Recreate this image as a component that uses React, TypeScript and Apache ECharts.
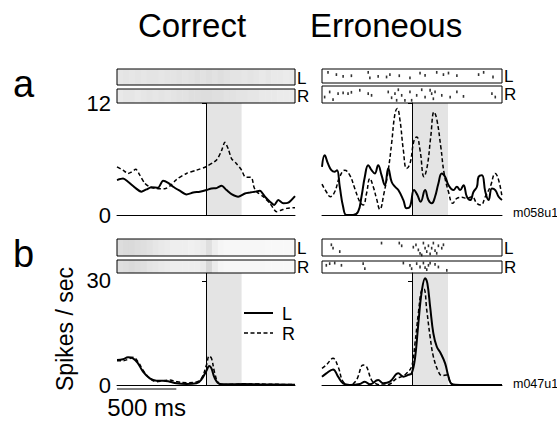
import React, { useEffect, useRef } from "react";
import * as echarts from "echarts";

// ---- data ----
const timeMin = -750;
const timeMax = 750;
const responseWindow = [0, 300];
const scaleBarMs = 500;
const yTicksA = [0, 12];
const yTicksB = [0, 30];
const yMaxA = 12;
const yMaxB = 32.3;

// PSTH curves: [ms, spikes/sec]
const aCorrectL = [[-750,3.74],[-699,3.9],[-657,3.56],[-601,2.96],[-545,2.5],[-502,2.74],[-460,2.96],[-404,2.92],[-362,3.67],[-319,3.45],[-277,3.03],[-221,2.6],[-165,2.2],[-108,2.4],[-52,2.5],[4,2.67],[46,2.85],[89,2.88],[131,3.13],[173,2.67],[215,2.24],[271,1.96],[328,2.3],[370,2.4],[412,2.5],[454,2.6],[497,1.96],[539,1.42],[575,1.07],[609,1.6],[651,1.25],[694,1.32],[750,2.03]];
const aCorrectR = [[-750,5.16],[-699,4.8],[-657,4.45],[-629,4.6],[-592,4.9],[-559,4.3],[-516,3.4],[-474,3.0],[-418,2.85],[-348,2.8],[-305,3.1],[-249,3.8],[-165,4.45],[-80,4.8],[4,5.2],[89,5.9],[131,6.9],[159,7.8],[187,7.1],[215,6.05],[257,5.5],[300,4.8],[328,4.1],[384,4.0],[404,3.0],[426,2.5],[483,1.96],[539,1.25],[595,0.36],[637,0.53],[680,0.71],[750,0.78]];
const aErrorL = [[-750,5.16],[-728,6.4],[-700,5.5],[-672,4.8],[-644,4.63],[-625,4.8],[-602,3.03],[-574,0.89],[-546,0],[-491,0],[-449,0.36],[-421,1.96],[-393,4.1],[-365,5.34],[-337,4.8],[-310,4.45],[-282,5.34],[-254,4.27],[-226,3.2],[-198,4.98],[-170,3.56],[-142,3.03],[-114,2.67],[-72,1.6],[-45,0.71],[-17,0.89],[17,2.67],[45,2.14],[72,1.42],[109,2.67],[137,1.6],[164,1.25],[192,1.96],[220,3.38],[248,4.45],[276,4.1],[304,3.2],[346,2.67],[374,3.03],[401,2.67],[429,3.2],[457,1.96],[485,1.6],[513,2.49],[541,3.03],[555,4.1],[583,4.27],[611,2.49],[638,1.6],[666,2.85],[694,2.67],[722,1.96],[750,1.6]];
const aErrorR = [[-750,3.31],[-714,2.49],[-680,1.96],[-644,2.49],[-602,4.1],[-560,4.8],[-519,4.27],[-477,2.85],[-435,1.42],[-407,1.07],[-379,2.3],[-351,3.9],[-323,3.03],[-296,1.78],[-268,0.6],[-234,2.3],[-198,4.8],[-170,7.66],[-142,10.86],[-123,11.4],[-100,10.15],[-72,6.94],[-45,4.98],[-17,5.5],[17,8.0],[39,8.37],[67,6.94],[100,4.1],[128,5.3],[156,8.37],[184,11.04],[206,10.3],[240,7.3],[268,4.45],[304,2.49],[340,1.25],[374,1.78],[415,1.89],[457,1.78],[499,1.96],[541,1.25],[574,1.07],[611,1.96],[652,3.03],[694,4.45],[722,3.74],[750,1.96]];
const bCorrectL = [[-750,7.2],[-699,7.4],[-657,8.0],[-615,7.7],[-573,6.25],[-531,3.85],[-474,1.92],[-418,1.25],[-362,1.25],[-305,0.96],[-249,0.48],[-165,0.29],[-80,0.48],[-38,1.63],[4,4.13],[27,5.48],[46,4.8],[74,1.92],[117,0.29],[201,0.19],[314,0.29],[454,0.19],[750,0.1]];
const bCorrectR = [[-750,7.0],[-699,7.0],[-657,7.4],[-615,8.0],[-573,6.7],[-531,4.3],[-474,1.92],[-418,0.96],[-362,1.25],[-305,1.44],[-249,0.96],[-165,0.67],[-80,0.87],[-38,1.92],[4,5.77],[27,8.37],[46,7.7],[74,3.37],[103,0.67],[145,0.1],[314,0.29],[750,0.1]];
const bErrorL = [[-750,2.4],[-714,3.37],[-658,4.5],[-616,2.4],[-574,0.48],[-519,0],[-435,0.29],[-393,0.96],[-351,0.19],[-282,1.44],[-240,0.48],[-184,0.96],[-114,3.37],[-72,2.4],[-31,2.9],[-3,3.37],[25,7.7],[53,17.8],[81,26.9],[109,30.8],[128,29.3],[151,22.6],[178,14.9],[206,11.1],[240,9.1],[276,6.25],[304,2.4],[332,0.29],[401,0],[750,0]];
const bErrorR = [[-750,4.8],[-714,5.77],[-658,7.7],[-616,5.3],[-574,0.96],[-519,0],[-463,1.44],[-407,5.77],[-379,5.3],[-337,1.44],[-296,0.29],[-240,0],[-184,0.29],[-128,1.92],[-86,2.4],[-45,3.37],[-3,5.3],[25,12.0],[53,20.7],[81,27.4],[100,27.6],[123,21.6],[151,13.9],[178,8.2],[220,3.85],[248,2.7],[290,2.9],[318,0.96],[346,0],[750,0.1]];

// Raster density (correct trials, 50 ms bins from -750 ms)
const binMs = 50;
const aCorrectLDensity = [0.45,0.5,0.45,0.5,0.45,0.5,0.5,0.45,0.5,0.5,0.55,0.5,0.55,0.6,0.55,0.6,0.55,0.6,0.55,0.5,0.5,0.45,0.5,0.45,0.4,0.45,0.4,0.4,0.35,0.4];
const aCorrectRDensity = [0.4,0.45,0.45,0.4,0.45,0.5,0.45,0.5,0.45,0.5,0.55,0.55,0.6,0.6,0.65,0.65,0.6,0.6,0.55,0.55,0.5,0.5,0.45,0.45,0.4,0.4,0.4,0.35,0.35,0.35];
const bCorrectLDensity = [0.65,0.7,0.7,0.65,0.6,0.55,0.45,0.4,0.35,0.3,0.3,0.3,0.25,0.3,0.35,0.6,0.3,0.15,0.1,0.1,0.1,0.1,0.1,0.1,0.1,0.08,0.08,0.08,0.08,0.08];
const bCorrectRDensity = [0.6,0.65,0.7,0.65,0.6,0.5,0.45,0.4,0.35,0.3,0.3,0.3,0.3,0.3,0.4,0.8,0.35,0.15,0.1,0.1,0.1,0.1,0.1,0.1,0.1,0.08,0.08,0.08,0.08,0.08];

// Raster spikes (erroneous trials): [ms, row position 0 (top) .. 1 (bottom)]
const aErrorLSpikes = [[-700,0.24],[-630,0.4],[-574,0.52],[-505,0.48],[-365,0.24],[-351,0.64],[-282,0.52],[-212,0.57],[-184,0.4],[-106,0.48],[-17,0.64],[67,0.29],[109,0.45],[206,0.24],[262,0.4],[304,0.29],[374,0.48],[555,0.4],[597,0.24],[675,0.57]];
const aErrorRSpikes = [[-728,0.65],[-686,0.35],[-658,0.8],[-616,0.45],[-574,0.41],[-533,0.45],[-505,0.37],[-435,0.25],[-365,0.45],[-337,0.55],[-198,0.35],[-170,0.69],[-142,0.45],[-128,0.84],[-114,0.22],[-86,0.55],[-59,0.84],[-17,0.35],[-3,0.84],[39,0.55],[81,0.22],[109,0.65],[151,0.25],[164,0.45],[178,0.75],[192,0.35],[248,0.55],[318,0.65],[374,0.35],[429,0.61],[666,0.45],[694,0.65]];
const bErrorLSpikes = [[-672,0.34],[-658,0.54],[-602,0.74],[-254,0.24],[-106,0.24],[-86,0.4],[11,0.48],[33,0.34],[53,0.64],[67,0.84],[81,0.94],[95,0.24],[109,0.54],[123,0.74],[137,0.4],[151,0.88],[164,0.54],[178,0.24],[192,0.68],[206,0.84],[220,0.4],[248,0.54],[262,0.34]];
const bErrorRSpikes = [[-714,0.36],[-686,0.22],[-644,0.17],[-588,0.36],[-407,0.22],[-393,0.64],[-72,0.17],[-17,0.36],[-3,0.64],[39,0.22],[67,0.5],[95,0.17],[109,0.56],[123,0.72],[137,0.36],[151,0.17],[192,0.28],[220,0.5],[290,0.78]];

const FONT = "Liberation Sans, Arial, Helvetica, sans-serif";

export default function App() {
  const ref = useRef<HTMLDivElement>(null);

  useEffect(() => {
    if (!ref.current) return;
    const chart = echarts.init(ref.current, undefined, { renderer: "svg", width: 557, height: 426 });

    const psthGrids = [
      { left: 117, top: 103, width: 178, height: 112 },
      { left: 322, top: 103, width: 180, height: 112 },
      { left: 117, top: 273, width: 178, height: 112 },
      { left: 322, top: 273, width: 180, height: 112 },
    ];
    const rasterGrids = [
      { left: 117, top: 69, width: 178, height: 16 },
      { left: 117, top: 89, width: 178, height: 14 },
      { left: 322, top: 69, width: 180, height: 14 },
      { left: 322, top: 86, width: 180, height: 17 },
      { left: 117, top: 239, width: 178, height: 17 },
      { left: 117, top: 260, width: 178, height: 13 },
      { left: 322, top: 239, width: 180, height: 17 },
      { left: 322, top: 261, width: 180, height: 12 },
    ];

    const grid: any[] = [];
    const xAxis: any[] = [];
    const yAxis: any[] = [];
    const series: any[] = [];

    const psthDefs = [
      { L: aCorrectL, R: aCorrectR, max: yMaxA, ticks: yTicksA, labels: true, smooth: 0.25 },
      { L: aErrorL, R: aErrorR, max: yMaxA, ticks: yTicksA, labels: false, smooth: 0.45 },
      { L: bCorrectL, R: bCorrectR, max: yMaxB, ticks: yTicksB, labels: true, smooth: 0.4 },
      { L: bErrorL, R: bErrorR, max: yMaxB, ticks: yTicksB, labels: false, smooth: 0.4 },
    ];

    psthDefs.forEach((d, i) => {
      grid.push({ ...psthGrids[i], containLabel: false, show: false });
      xAxis.push({
        gridIndex: i, type: "value", min: timeMin, max: timeMax,
        axisLine: { show: true, onZero: false, lineStyle: { color: "#000", width: 1 } },
        axisTick: { show: false }, axisLabel: { show: false }, splitLine: { show: false },
      });
      yAxis.push({
        gridIndex: i, type: "value", min: 0, max: d.max,
        axisLine: { show: true, lineStyle: { color: "#000", width: 1 } },
        axisTick: { show: true, inside: false, length: 4, customValues: d.ticks, lineStyle: { color: "#000" } },
        axisLabel: { show: d.labels, customValues: d.ticks, color: "#000", fontSize: 22, fontFamily: FONT, margin: 6 },
        splitLine: { show: false },
      });
      series.push({
        type: "line", xAxisIndex: i, yAxisIndex: i, data: [], z: 1, silent: true,
        markArea: {
          silent: true, itemStyle: { color: "#e4e4e4" },
          data: [[{ xAxis: responseWindow[0] }, { xAxis: responseWindow[1] }]],
        },
        markLine: {
          silent: true, symbol: "none", label: { show: false },
          lineStyle: { color: "#000", width: 1, type: "solid" },
          data: [{ xAxis: 0 }],
        },
      });
      series.push({
        name: "L", type: "line", xAxisIndex: i, yAxisIndex: i, data: d.L, showSymbol: false,
        smooth: d.smooth, z: 3, lineStyle: { color: "#000", width: 2 },
      });
      series.push({
        name: "R", type: "line", xAxisIndex: i, yAxisIndex: i, data: d.R, showSymbol: false,
        smooth: d.smooth, z: 3, lineStyle: { color: "#000", width: 1.5, type: [4, 2.5] },
      });
    });

    const rasterDefs: any[] = [
      { kind: "density", data: aCorrectLDensity },
      { kind: "density", data: aCorrectRDensity },
      { kind: "spikes", data: aErrorLSpikes },
      { kind: "spikes", data: aErrorRSpikes },
      { kind: "density", data: bCorrectLDensity },
      { kind: "density", data: bCorrectRDensity },
      { kind: "spikes", data: bErrorLSpikes },
      { kind: "spikes", data: bErrorRSpikes },
    ];

    rasterDefs.forEach((r, k) => {
      const gi = 4 + k;
      grid.push({
        ...rasterGrids[k], show: true, borderColor: "#000", borderWidth: 1,
        backgroundColor: "transparent", z: 6,
      });
      xAxis.push({ gridIndex: gi, type: "value", min: timeMin, max: timeMax, show: false });
      yAxis.push({ gridIndex: gi, type: "value", min: 0, max: 1, inverse: true, show: false });
      if (r.kind === "density") {
        series.push({
          type: "custom", xAxisIndex: gi, yAxisIndex: gi, silent: true, z: 2,
          data: r.data.map((v: number, j: number) => [timeMin + j * binMs, v]),
          renderItem: (_p: any, api: any) => {
            const t0 = api.value(0);
            const v = api.value(1);
            const p0 = api.coord([t0, 0]);
            const p1 = api.coord([t0 + binMs, 1]);
            const g = Math.round(252 - v * 48);
            return {
              type: "rect",
              shape: { x: p0[0], y: p0[1], width: p1[0] - p0[0] + 0.5, height: p1[1] - p0[1] },
              style: { fill: `rgb(${g},${g},${g})` },
            };
          },
        });
      } else {
        series.push({
          type: "scatter", xAxisIndex: gi, yAxisIndex: gi, silent: true, z: 3,
          symbol: "rect", symbolSize: [1.6, 2.8], itemStyle: { color: "#000" },
          data: r.data,
        });
      }
    });

    const txt = (text: string, x: number, y: number, fontSize: number, align = "left", extra: any = {}) => ({
      type: "text", x, y, silent: true,
      style: { text, fontSize, fontFamily: FONT, fill: "#000", align, verticalAlign: "middle" },
      ...extra,
    });

    const graphic: any[] = [
      txt("Correct", 192, 25, 33, "center"),
      txt("Erroneous", 386, 25, 33, "center"),
      txt("a", 13, 84, 38),
      txt("b", 13, 254, 38),
      txt("Spikes / sec", 65, 329, 23, "center", { rotation: Math.PI / 2 }),
      txt("L", 297, 78, 17), txt("R", 297, 96, 17),
      txt("L", 504, 76, 17), txt("R", 504, 94, 17),
      txt("L", 297, 248, 17), txt("R", 297, 267, 17),
      txt("L", 504, 248, 17), txt("R", 504, 267, 17),
      txt("m058u1", 513, 213, 12.5),
      txt("m047u1", 513, 384, 12.5),
      { type: "line", silent: true, shape: { x1: 244, y1: 313, x2: 273, y2: 313 }, style: { stroke: "#000", lineWidth: 2 } },
      { type: "line", silent: true, shape: { x1: 244, y1: 333, x2: 273, y2: 333 }, style: { stroke: "#000", lineWidth: 1.5, lineDash: [4, 2.5] } },
      txt("L", 282, 314, 18),
      txt("R", 282, 334, 18),
    ];

    chart.setOption({
      animation: false,
      backgroundColor: "#fff",
      textStyle: { fontFamily: FONT },
      grid, xAxis, yAxis, series, graphic,
    });

    // 500 ms scale bar, placed via the b-correct time axis
    const p0 = chart.convertToPixel({ xAxisIndex: 2, yAxisIndex: 2 }, [timeMin, 0]) as number[];
    const p1 = chart.convertToPixel({ xAxisIndex: 2, yAxisIndex: 2 }, [timeMin + scaleBarMs, 0]) as number[];
    if (p0 && p1) {
      const by = p0[1] + 4;
      chart.setOption({
        graphic: [
          ...graphic,
          { type: "line", silent: true, shape: { x1: p0[0], y1: by, x2: p1[0], y2: by }, style: { stroke: "#000", lineWidth: 1 } },
          txt("500 ms", (p0[0] + p1[0]) / 2, 407, 24, "center"),
        ],
      });
    }

    return () => chart.dispose();
  }, []);

  return (
    <div
      ref={ref}
      style={{ position: "fixed", left: 0, top: 0, width: 557, height: 426, background: "#fff" }}
    />
  );
}
